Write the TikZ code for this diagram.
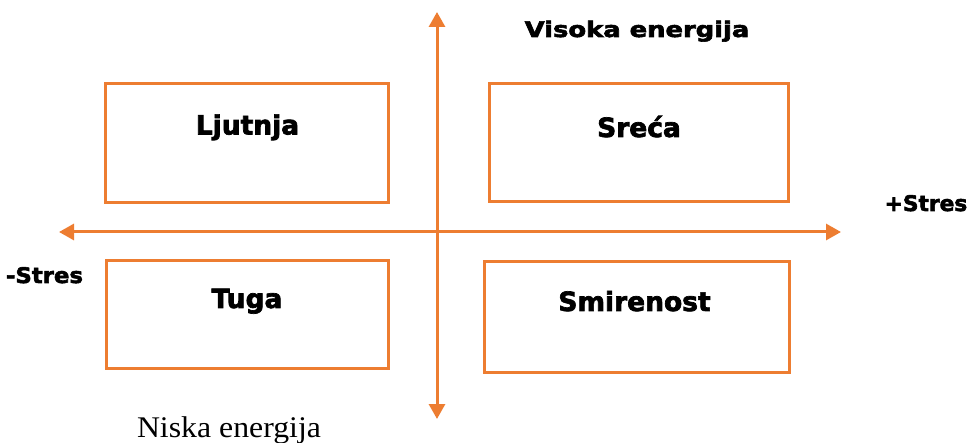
\documentclass[tikz,border=0pt]{standalone}
\usepackage{fontspec}
\usepackage{graphicx}
\usetikzlibrary{arrows.meta}
\setmainfont{Liberation Serif}
\newfontfamily\blk{DejaVu Sans Bold}[FakeBold=2.6]
\definecolor{axorange}{HTML}{ED7D31}
\newcommand{\wide}[2]{\scalebox{#1}[1]{#2}}
\begin{document}
\begin{tikzpicture}[x=1pt,y=-1pt,
  quad/.style={draw=axorange, line width=3pt, fill=none},
  axis/.style={draw=axorange, line width=3pt, {Triangle[width=16pt,length=15pt]}-{Triangle[width=16pt,length=15pt]}},
  lbl/.style={anchor=base, inner sep=0pt, font=\blk\fontsize{26.5}{30}\selectfont},
  side/.style={anchor=base, inner sep=0pt, font=\blk\fontsize{21.5}{24}\selectfont},
  serif/.style={anchor=base, inner sep=0pt, font=\fontsize{30}{33}\selectfont}]
\useasboundingbox (0,0) rectangle (971,443);
% boxes
\draw[quad] (105,84) rectangle (388,203);
\draw[quad] (489,84) rectangle (788,202);
\draw[quad] (106,261) rectangle (388,368);
\draw[quad] (484,262) rectangle (789,372);
% axes
\coordinate (top) at (437,12);
\coordinate (bottom) at (437,419);
\coordinate (left) at (59,232);
\coordinate (right) at (841,232);
\draw[axis] (left) -- (right);
\draw[axis] (bottom) -- (top);
% box labels
\node[lbl] (ljut) at (247.5,134.5) {Ljutnja};
\node[lbl] (sreca) at (639,137) {Sreća};
\node[lbl] (tuga) at (247,308) {Tuga};
\node[lbl] (smir) at (634.5,311) {Smirenost};
% axis labels
\node[side] (visoka) at (637,37) {\wide{1.2}{Visoka energija}};
\node[side] (plus) at (926,211) {\wide{1.01}{+Stres}};
\node[side] (minus) at (44.5,283) {\wide{1.06}{-Stres}};
\node[serif] (niska) at (229,437) {\wide{1.06}{Niska energija}};
\end{tikzpicture}
\end{document}
